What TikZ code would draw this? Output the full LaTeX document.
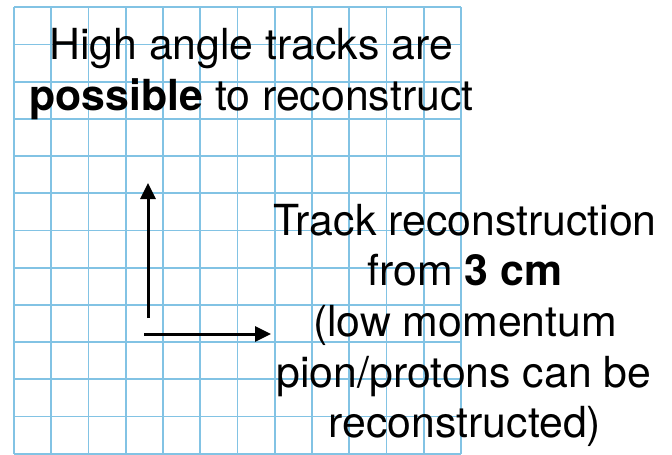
\documentclass[tikz,border=0pt]{standalone}
\usepackage{fontspec}
\setmainfont{TeX Gyre Heros}
\usetikzlibrary{arrows.meta}
\definecolor{gridblue}{RGB}{130,195,228}
\begin{document}
\begin{tikzpicture}[x=1pt,y=-1pt,
  gridline/.style={draw=gridblue,line width=1.8pt},
  lbl/.style={anchor=base,inner sep=0pt,font=\fontsize{42.8}{50}\selectfont},
  arr/.style={draw=black,line width=3pt,-{Triangle[length=16pt,width=15pt]}}]
\useasboundingbox (0,0) rectangle (672,455);
\fill[white] (0,0) rectangle (672,455);
% grid
\foreach \k in {0,...,12}{
  \draw[gridline] ({14+37.25*\k},7.3) -- ({14+37.25*\k},453.7);
  \draw[gridline] (14,{7.3+37.2*\k}) -- (461,{7.3+37.2*\k});
}
% arrows
\coordinate (vstart) at (148,318);
\coordinate (vend) at (148,183);
\coordinate (hstart) at (144,334);
\coordinate (hend) at (271,334);
\draw[arr] (vstart) -- (vend);
\draw[arr] (hstart) -- (hend);
% top text
\node[lbl] (t1) at (251,59.5) {High angle tracks are};
\node[lbl] (t2) at (251.5,110) {\textbf{possible} to reconstruct};
% right text
\node[lbl] (r1) at (465,235) {Track reconstruction};
\node[lbl] (r2) at (465,285.5) {from \textbf{3 cm}};
\node[lbl] (r3) at (465,336.5) {(low momentum};
\node[lbl] (r4) at (464,387) {pion/protons can be};
\node[lbl] (r5) at (465,437) {reconstructed)};
\end{tikzpicture}
\end{document}
